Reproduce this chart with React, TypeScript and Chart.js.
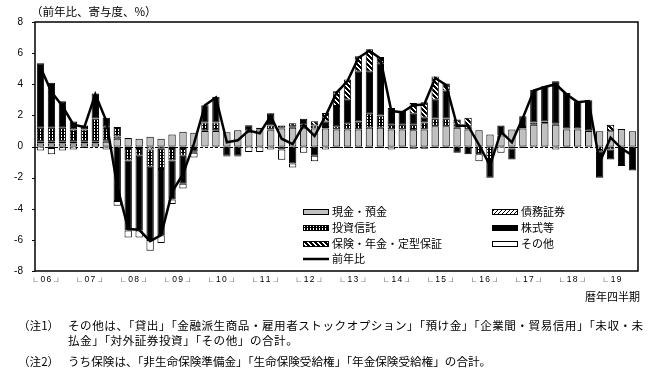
import React, { useEffect, useRef } from "react";
import { Chart, registerables } from "chart.js";
Chart.register(...registerables);

const yearLabels = ["06", "07", "08", "09", "10", "11", "12", "13", "14", "15", "16", "17", "18", "19"];
const quarters = yearLabels.flatMap((y) => ["Q1", "Q2", "Q3", "Q4"].map((q) => y + q)).slice(0, 55);

const cash = [
  0.2, 0.2, 0.2, 0.2, 0.2, 0.2, 0.3,
  0.5, 0.55, 0.5, 0.62, 0.5, 0.77, 0.94,
  0.88, 1.0, 1.0, 0.92, 1.05, 0.95, 1.1,
  1.05, 1.15, 1.2, 1.2, 1.15, 1.15, 1.1,
  1.1, 1.1, 1.2, 1.2, 1.1, 1.1, 1.05,
  1.1, 1.3, 1.3, 1.2, 1.1, 1.05, 0.77,
  0.7, 1.1, 1.15, 1.4, 1.5, 1.4, 1.1,
  1.1, 1.0, 0.98, 0.98, 1.13, 0.98,
];
const debt = [
  0.1, 0.1, 0.1, 0.1, 0.1, 0.1, 0.1,
  0.15, -0.1, -0.1, -0.2, -0.15, -0.1, -0.1,
  -0.1, 0.05, 0.05, 0, 0, 0, 0,
  0.05, 0.05, 0, 0, 0, 0, 0,
  0, 0, 0, 0, 0, 0, 0,
  0, 0, 0, 0, 0, 0, 0,
  0, 0, 0, 0, 0, 0, 0,
  0, 0, 0, 0, 0, 0,
];
const trust = [
  0.9, 0.9, 0.9, 0.8, 0.8, 1.5, 0.9,
  0.6, -0.8, -0.5, -1.1, -1.3, -0.8, -0.5,
  -0.2, 0.5, 0.5, 0, 0, 0.1, 0.1,
  0.25, 0.15, 0.1, 0.2, 0.2, 0.1, 0.2,
  0.4, 0.5, 0.9, 0.8, 0.3, 0.3, 0.35,
  0.45, 0.5, 0.5, 0.2, 0.2, -0.5, -0.8,
  0, -0.13, 0.1, 0.15, 0.1, 0.1, 0.05,
  0.05, 0.05, -0.3, -0.2, 0, 0,
];
const equity = [
  4.15, 2.9, 1.7, 0.5, 0.25, 1.6, 0.55,
  -3.5, -4.5, -4.8, -4.7, -4.25, -2.5, -1.8,
  -0.1, 1.1, 1.65, -0.6, -0.6, 0.32, 0,
  0.75, -0.2, -1.1, 0.38, -0.6, 0.35, 1.3,
  1.5, 3.2, 2.7, 3.35, 1.08, 0.9, 0.7,
  0.3, 1.2, 1.8, -0.4, -0.5, 0, -1.2,
  0.65, -0.7, 0.69, 2.1, 2.27, 2.7, 2.29,
  1.75, 1.92, -1.7, -0.63, -1.26, -1.55,
];
const insurance = [
  0, -0.1, -0.05, 0, 0, 0, 0,
  0, 0, 0, 0, 0, 0, 0,
  0, 0, 0, 0, 0, 0, 0,
  0.06, 0, 0.2, 0, 0.27, 0.55, 0.95,
  1.3, 1.0, 1.45, 0.4, 0, 0, 0.7,
  1.0, 1.5, 0.45, 0.33, 0.54, 0, 0,
  0, 0, 0, 0, 0, 0, 0,
  0, 0, 0, 0.42, 0, 0,
];
const others = [
  -0.25, -0.4, -0.2, -0.2, -0.1, -0.05, -0.2,
  -0.3, -0.45, -0.45, -0.7, -0.5, -0.3, -0.3,
  -0.3, 0, -0.05, -0.05, -0.05, -0.35, -0.35,
  -0.2, -0.65, -0.25, -0.4, -0.34, -0.2, -0.1,
  -0.1, -0.1, -0.1, -0.1, -0.2, -0.1, -0.15,
  -0.15, -0.1, -0.1, 0, 0, -0.44, 0,
  -0.4, 0, -0.1, -0.05, -0.05, -0.2, -0.1,
  -0.05, -0.05, 0, 0, 0, 0,
];
const yoy = [
  5.1, 3.5, 2.6, 1.4, 1.25, 3.35, 1.65,
  -2.55, -5.3, -5.35, -6.08, -5.7, -2.93, -1.76,
  0.18, 2.65, 3.15, 0.27, 0.4, 1.02, 0.85,
  1.96, 0.5, 0.15, 1.38, 0.68, 1.95, 3.45,
  4.2, 5.7, 6.15, 5.65, 2.28, 2.2, 2.65,
  2.7, 4.4, 3.95, 1.33, 1.34, 0.11, -1.23,
  0.95, 0.27, 1.84, 3.6, 3.82, 4.0, 3.34,
  2.85, 2.92, -1.02, 0.57, -0.13, -0.57,
];
const yTicks = [-8, -6, -4, -2, 0, 2, 4, 6, 8];

function tile(w: number, h: number, bg: string, fg: string, on: (x: number, y: number) => boolean) {
  const c = document.createElement("canvas");
  c.width = w;
  c.height = h;
  const g = c.getContext("2d")!;
  g.fillStyle = bg;
  g.fillRect(0, 0, w, h);
  g.fillStyle = fg;
  for (let y = 0; y < h; y++) for (let x = 0; x < w; x++) if (on(x, y)) g.fillRect(x, y, 1, 1);
  return g.createPattern(c, "repeat")!;
}

const App = () => {
  const ref = useRef<HTMLCanvasElement>(null);
  useEffect(() => {
    const canvas = ref.current!;
    const fills = {
      cash: "#c0c0c0",
      debt: tile(4, 4, "#ffffff", "#000000", (x, y) => (x + y) % 4 === 3),
      trust: tile(3, 3, "#000000", "#ffffff", (x, y) => x === 1 && y < 2),
      equity: "#000000",
      ins: tile(5, 5, "#000000", "#ffffff", (x, y) => (x - y + 10) % 5 < 2),
      other: "#ffffff",
    };
    const nz = (a: number[]) => a.map((v) => (v === 0 ? null : v));
    const barDs = (label: string, data: number[], fill: any) => ({
      type: "bar" as const,
      label,
      data: nz(data),
      backgroundColor: fill,
      borderColor: "#000",
      borderWidth: 1,
      borderSkipped: false,
      barPercentage: 0.67,
      categoryPercentage: 1,
      stack: "s",
    });
    const datasets: any[] = [
      barDs("現金・預金", cash, fills.cash),
      barDs("債務証券", debt, fills.debt),
      barDs("投資信託", trust, fills.trust),
      barDs("株式等", equity, fills.equity),
      barDs("保険・年金・定型保証", insurance, fills.ins),
      barDs("その他", others, fills.other),
      {
        type: "line",
        label: "前年比",
        data: yoy,
        borderColor: "#000",
        borderWidth: 2.5,
        pointRadius: 0,
        fill: false,
        tension: 0,
        stack: "line",
        order: -1,
      },
    ];
    const legendOrder = [0, 1, 2, 3, 4, 5, 6];

    const deco = {
      id: "deco",
      beforeDatasetsDraw(chart: any) {
        const { ctx, chartArea: a, scales } = chart;
        const y0 = Math.round(scales.y.getPixelForValue(0)) + 0.5;
        ctx.save();
        ctx.strokeStyle = "#000";
        ctx.lineWidth = 1;
        ctx.setLineDash([3, 2]);
        ctx.beginPath();
        ctx.moveTo(a.left, y0);
        ctx.lineTo(a.right, y0);
        ctx.stroke();
        ctx.restore();
      },
      afterDraw(chart: any) {
        const { ctx, chartArea: a, scales } = chart;
        ctx.save();
        ctx.strokeStyle = "#000";
        ctx.lineWidth = 1.5;
        ctx.strokeRect(a.left, a.top, a.right - a.left, a.bottom - a.top);
        ctx.lineWidth = 1;
        yTicks.forEach((t) => {
          const y = Math.round(scales.y.getPixelForValue(t)) + 0.5;
          ctx.beginPath();
          ctx.moveTo(a.left - 3, y);
          ctx.lineTo(a.left, y);
          ctx.stroke();
        });
        ctx.fillStyle = "#000";
        ctx.font = "11.5px 'Noto Sans CJK JP'";
        ctx.textBaseline = "middle";
        ctx.textAlign = "left";
        ctx.fillText("（前年比、寄与度、%）", 31, 12);
        // x labels: 「└ 0 6 ┘」 per year
        ctx.textAlign = "center";
        const step = scales.x.getPixelForValue(1) - scales.x.getPixelForValue(0);
        yearLabels.forEach((yl, k) => {
          const i1 = k * 4;
          const c = scales.x.getPixelForValue(i1) + step / 2;
          const chars = ["└", yl[0], yl[1], "┘"];
          const dx = [-12, -3, 3, 12];
          const n = k * 4 + 3 < quarters.length ? 4 : 3;
          for (let j = 0; j < n; j++) {
            const isBox = j === 0 || j === 3;
            ctx.font = isBox ? "8px 'Noto Sans CJK JP'" : "8.5px 'Liberation Sans'";
            ctx.fillText(chars[j], c + dx[j], a.bottom + 9 + (isBox ? 2 : 0));
          }
        });
        ctx.font = "11px 'Noto Sans CJK JP'";
        ctx.textAlign = "right";
        ctx.fillText("暦年四半期", 640, 297);
        const cols = [a.left + 268, a.left + 457];
        const rows = [a.bottom - 59, a.bottom - 43, a.bottom - 27, a.bottom - 12];
        ctx.font = "11px 'Noto Sans CJK JP'";
        ctx.textAlign = "left";
        legendOrder.forEach((di, k) => {
          const ds = chart.data.datasets[di];
          const x = cols[k % 2];
          const y = rows[Math.floor(k / 2)];
          if (ds.type === "line") {
            ctx.strokeStyle = "#000";
            ctx.lineWidth = 2.5;
            ctx.beginPath();
            ctx.moveTo(x, y);
            ctx.lineTo(x + 26, y);
            ctx.stroke();
          } else {
            ctx.fillStyle = ds.backgroundColor;
            ctx.fillRect(x, y - 3, 26, 6);
            ctx.strokeStyle = "#000";
            ctx.lineWidth = 1;
            ctx.strokeRect(x + 0.5, y - 2.5, 25, 5);
          }
          ctx.fillStyle = "#000";
          ctx.fillText(ds.label, x + 29, y);
        });
        ctx.restore();
      },
    };

    const chart = new Chart(canvas, {
      type: "bar",
      data: { labels: quarters, datasets },
      options: {
        responsive: false,
        animation: false,
        devicePixelRatio: 1,
        layout: { padding: { left: 0, right: 18, top: 22, bottom: 114 } },
        plugins: { legend: { display: false }, tooltip: { enabled: false }, title: { display: false } },
        scales: {
          x: { display: false, stacked: true, offset: true, grid: { display: false } },
          y: {
            stacked: true,
            min: -8,
            max: 8,
            afterFit: (s: any) => {
              s.width = 35;
            },
            afterBuildTicks: (s: any) => {
              s.ticks = yTicks.map((v) => ({ value: v }));
            },
            ticks: { padding: 12, color: "#000", font: { size: 10, family: "'Liberation Sans', Arial" } },
            grid: { display: false, drawTicks: false },
            border: { display: false },
          },
        },
      },
      plugins: [deco],
    } as any);
    return () => chart.destroy();
  }, []);

  const noteStyle: React.CSSProperties = {
    position: "absolute",
    whiteSpace: "nowrap",
    fontFamily: "'Noto Sans CJK JP'",
    fontSize: 11.6,
    lineHeight: "15px",
    color: "#000",
  };
  return (
    <div style={{ position: "absolute", left: 0, top: 0, width: 656, height: 385, background: "#fff" }}>
      <canvas ref={ref} width={656} height={385} style={{ position: "absolute", left: 0, top: 0 }} />
      <div style={{ ...noteStyle, top: 318, left: 18 }}>（注1）</div>
      <div style={{ ...noteStyle, top: 318, left: 68, letterSpacing: "0.5px" }}>
        その他は、「貸出」「金融派生商品・雇用者ストックオプション」「預け金」「企業間・貿易信用」「未収・未
      </div>
      <div style={{ ...noteStyle, top: 333, left: 68, letterSpacing: "0.5px" }}>払金」「対外証券投資」「その他」の合計。</div>
      <div style={{ ...noteStyle, top: 354, left: 18 }}>（注2）</div>
      <div style={{ ...noteStyle, top: 354, left: 68 }}>うち保険は、「非生命保険準備金」「生命保険受給権」「年金保険受給権」の合計。</div>
    </div>
  );
};

export default App;
